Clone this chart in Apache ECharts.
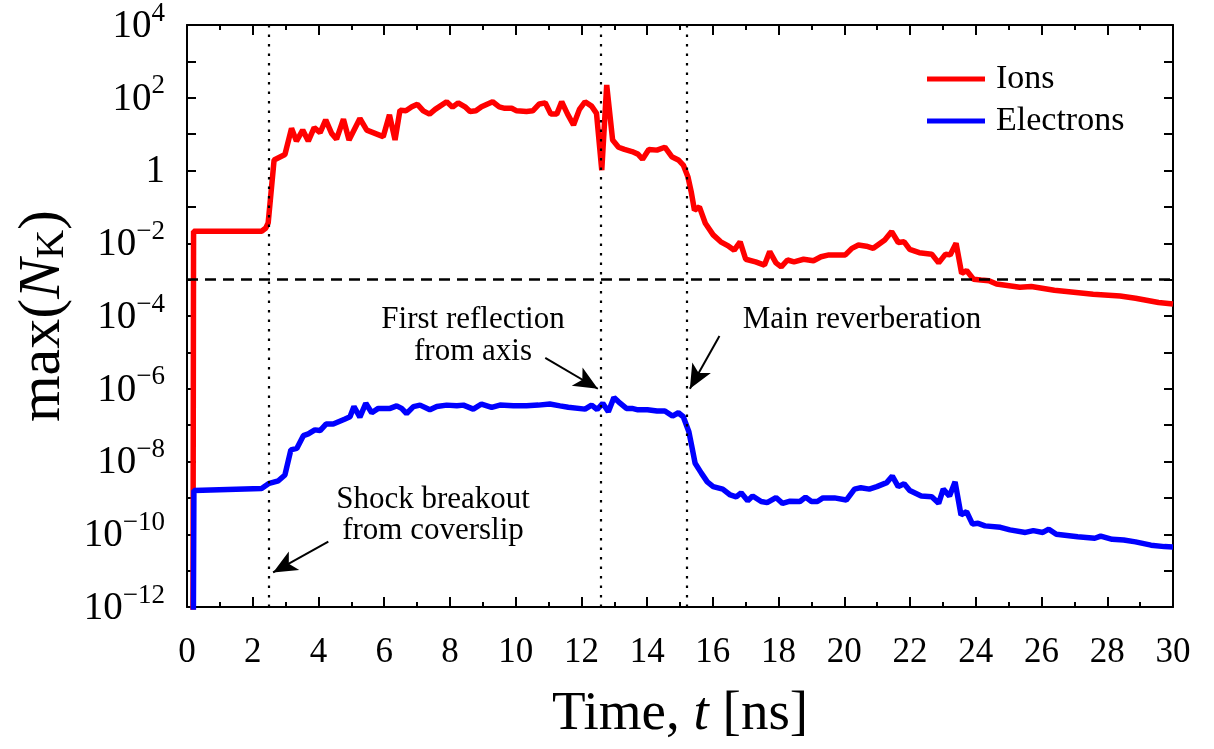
<!DOCTYPE html>
<html>

<head>
    <meta charset="utf-8">
    <title>max(N_K) vs time</title>
    <script src="https://cdn.jsdelivr.net/npm/echarts@6/dist/echarts.min.js"></script>
    <style>
        html, body { margin: 0; padding: 0; background: #fff; }
        #chart { width: 1214px; height: 749px; }
    </style>
</head>

<body>
    <div id="chart"></div>
    <script>
    // y values are log10(max N_K)
    var ionT = [0.18, 0.2, 2.27, 2.4, 2.47, 2.65, 2.98, 3.18, 3.33, 3.52, 3.69, 3.87, 4.05, 4.22, 4.4, 4.55, 4.76, 4.93, 5.26, 5.47,
        5.97, 6.16, 6.33, 6.48, 6.66, 6.84, 7.01, 7.19, 7.38, 7.55, 7.9, 8.08, 8.25, 8.46, 8.61, 8.79, 8.96, 9.3, 9.5, 9.67,
        9.88, 10.03, 10.33, 10.52, 10.72, 10.9, 11.07, 11.25, 11.4, 11.58, 11.76, 11.94, 12.11, 12.31, 12.46, 12.62, 12.77, 12.95, 13.13, 13.31,
        13.54, 13.72, 13.86, 14.05, 14.3, 14.54, 14.75, 14.95, 15.1, 15.24, 15.34, 15.44, 15.59, 15.77, 16.01, 16.24, 16.48, 16.65, 16.83, 17.0,
        17.3, 17.57, 17.73, 17.92, 18.08, 18.27, 18.47, 18.76, 19.06, 19.29, 19.53, 20.03, 20.23, 20.43, 20.67, 20.88, 21.23, 21.44, 21.64, 21.82,
        21.99, 22.28, 22.66, 22.87, 23.08, 23.22, 23.4, 23.57, 23.72, 23.93, 24.16, 24.4, 24.63, 25.34, 25.69, 26.39, 27.57, 27.92, 28.39, 28.86,
        29.56, 30];
    var ionLog = [-13, -1.67, -1.67, -1.58, -1.44, 0.29, 0.44, 1.16, 0.81, 1.11, 0.81, 1.18, 1.04, 1.39, 1.02, 0.86, 1.41, 0.84, 1.43, 1.11,
        0.93, 1.53, 0.84, 1.66, 1.64, 1.75, 1.82, 1.64, 1.55, 1.68, 1.89, 1.74, 1.86, 1.75, 1.62, 1.64, 1.75, 1.89, 1.75, 1.71,
        1.71, 1.64, 1.62, 1.64, 1.83, 1.86, 1.55, 1.55, 1.89, 1.55, 1.25, 1.68, 1.89, 1.77, 1.57, 0.01, 2.35, 0.84, 0.64, 0.58,
        0.52, 0.45, 0.31, 0.58, 0.56, 0.64, 0.38, 0.29, 0.15, -0.17, -0.58, -1.09, -1.0, -1.45, -1.77, -1.96, -2.08, -2.19, -1.96, -2.44,
        -2.51, -2.6, -2.23, -2.54, -2.65, -2.46, -2.51, -2.44, -2.48, -2.37, -2.32, -2.32, -2.14, -2.05, -2.08, -2.14, -1.91, -1.68, -1.98, -1.96,
        -2.17, -2.26, -2.3, -2.54, -2.3, -2.32, -2.0, -2.83, -2.75, -2.99, -3.01, -3.03, -3.12, -3.21, -3.19, -3.29, -3.4, -3.42, -3.45, -3.51,
        -3.63, -3.67];

    var eleT = [0.19, 0.21, 2.27, 2.5, 2.78, 2.98, 3.16, 3.34, 3.54, 3.69, 3.89, 4.05, 4.23, 4.45, 4.63, 4.81, 4.96, 5.08, 5.26, 5.44,
        5.62, 5.82, 6.18, 6.38, 6.53, 6.68, 6.89, 7.09, 7.39, 7.6, 7.9, 8.21, 8.41, 8.71, 8.96, 9.27, 9.52, 9.93, 10.33, 10.69,
        11.04, 11.35, 11.6, 12.11, 12.31, 12.48, 12.65, 12.82, 12.99, 13.13, 13.37, 13.54, 13.72, 14.01, 14.3, 14.54, 14.77, 14.95, 15.1, 15.27,
        15.36, 15.46, 15.65, 15.83, 16.01, 16.3, 16.53, 16.71, 16.86, 17.06, 17.21, 17.47, 17.65, 17.92, 18.12, 18.35, 18.65, 18.82, 19.0, 19.18,
        19.35, 19.7, 20.06, 20.31, 20.5, 20.76, 20.99, 21.29, 21.46, 21.64, 21.82, 21.99, 22.34, 22.66, 22.87, 23.01, 23.2, 23.37, 23.55, 23.72,
        23.9, 24.07, 24.28, 24.75, 25.04, 25.51, 25.75, 26.04, 26.22, 26.45, 27.1, 27.62, 27.8, 28.15, 28.5, 28.86, 29.33, 29.74, 30];
    var eleLog = [-13, -8.8, -8.74, -8.6, -8.53, -8.37, -7.68, -7.64, -7.29, -7.24, -7.13, -7.15, -6.97, -6.97, -6.9, -6.83, -6.77, -6.49, -6.78, -6.4,
        -6.66, -6.54, -6.54, -6.47, -6.54, -6.68, -6.49, -6.45, -6.58, -6.49, -6.45, -6.47, -6.45, -6.56, -6.42, -6.51, -6.45, -6.47, -6.47, -6.45,
        -6.42, -6.47, -6.51, -6.56, -6.45, -6.57, -6.4, -6.63, -6.24, -6.36, -6.54, -6.54, -6.58, -6.58, -6.61, -6.61, -6.75, -6.66, -6.77, -7.18,
        -7.59, -8.05, -8.32, -8.56, -8.69, -8.76, -8.92, -8.97, -8.86, -9.08, -8.95, -9.1, -9.13, -8.99, -9.15, -9.09, -9.1, -8.98, -9.1, -9.1,
        -9.0, -9.0, -9.06, -8.76, -8.72, -8.76, -8.69, -8.58, -8.4, -8.69, -8.61, -8.8, -8.95, -8.97, -9.15, -8.76, -8.95, -8.56, -9.47, -9.38,
        -9.72, -9.7, -9.77, -9.81, -9.88, -9.95, -9.9, -9.95, -9.86, -10.0, -10.07, -10.11, -10.05, -10.14, -10.16, -10.21, -10.3, -10.34, -10.35];

    var eventTimes = [2.5, 12.6, 15.2];   // dotted markers
    var threshold = -3;                    // dashed line, 1e-3

    var serif = 'Liberation Serif';

    function pairs(t, v) {
        return t.map(function(x, i) { return [x, v[i]]; });
    }

    function yLabel(v) {
        if (v % 2 !== 0) return '';
        if (v === 0) return '{b|1}';
        return '{b|10}{s|' + (v < 0 ? '\u2212' : '') + Math.abs(v) + '}';
    }

    function note(text, x, y) {
        return {
            type: 'text', x: x, y: y,
            style: { text: text, fontFamily: serif, fontSize: 31, fill: '#000', align: 'center', verticalAlign: 'middle' }
        };
    }

    var chart = echarts.init(document.getElementById('chart'));
    var frame = { show: true, onZero: false, lineStyle: { color: '#000', width: 2 } };
    var tickStyle = { color: '#000', width: 2 };

    chart.setOption({
        animation: false,
        backgroundColor: '#fff',
        grid: { left: 187, right: 41, top: 25, bottom: 142 },
        legend: {
            left: 922, top: 57, orient: 'vertical', itemGap: 8,
            itemWidth: 58, itemHeight: 5, icon: 'rect',
            textStyle: { fontFamily: serif, fontSize: 34, color: '#000', padding: [0, 0, 0, 6] },
            data: ['Ions', 'Electrons']
        },
        xAxis: [{
            type: 'value', min: 0, max: 30, interval: 2,
            axisLine: frame,
            axisTick: { show: true, inside: true, length: 10, lineStyle: tickStyle },
            minorTick: { show: true, splitNumber: 2, length: 5, lineStyle: tickStyle },
            splitLine: { show: false },
            axisLabel: { margin: 28, fontFamily: serif, fontSize: 35, color: '#000' },
            name: '{a|Time, }{i|t}{a| [ns]}',
            nameLocation: 'middle', nameGap: 80,
            nameTextStyle: {
                rich: {
                    a: { fontFamily: serif, fontSize: 55, color: '#000' },
                    i: { fontFamily: serif, fontSize: 55, fontStyle: 'italic', color: '#000' }
                }
            }
        }, {
            type: 'value', min: 0, max: 30, interval: 2, position: 'top',
            axisLine: frame,
            axisTick: { show: true, inside: true, length: 10, lineStyle: tickStyle },
            minorTick: { show: true, splitNumber: 2, length: 5, lineStyle: tickStyle },
            splitLine: { show: false },
            axisLabel: { show: false }
        }],
        yAxis: [{
            type: 'value', min: -12, max: 4, interval: 1,
            axisLine: frame,
            axisTick: { show: true, inside: true, length: 9, lineStyle: tickStyle },
            splitLine: { show: false },
            axisLabel: {
                margin: 22,
                formatter: yLabel,
                rich: {
                    b: { fontFamily: serif, fontSize: 39, color: '#000', verticalAlign: 'bottom', lineHeight: 42 },
                    s: { fontFamily: serif, fontSize: 27, color: '#000', verticalAlign: 'bottom', lineHeight: 42, padding: [0, 0, 19, 0] }
                }
            },
            name: '{n|max(}{i|N}{k|K}{n|)}',
            nameLocation: 'middle', nameGap: 113, nameRotate: 90,
            nameTextStyle: {
                rich: {
                    n: { fontFamily: serif, fontSize: 60, color: '#000', verticalAlign: 'bottom', lineHeight: 64 },
                    i: { fontFamily: serif, fontSize: 60, fontStyle: 'italic', color: '#000', verticalAlign: 'bottom', lineHeight: 64 },
                    k: { fontFamily: serif, fontSize: 40, color: '#000', verticalAlign: 'bottom', lineHeight: 64 }
                }
            }
        }, {
            type: 'value', min: -12, max: 4, interval: 1, position: 'right',
            axisLine: frame,
            axisTick: { show: true, inside: true, length: 9, lineStyle: tickStyle },
            splitLine: { show: false },
            axisLabel: { show: false }
        }],
        series: [{
            name: 'Ions', type: 'line', xAxisIndex: 0, yAxisIndex: 0,
            data: pairs(ionT, ionLog),
            showSymbol: false, clip: true,
            itemStyle: { color: '#ff0000' },
            lineStyle: { color: '#ff0000', width: 5.5 },
            markLine: {
                silent: true, symbol: 'none', animation: false,
                label: { show: false },
                data: eventTimes.map(function(t) {
                    return { xAxis: t, lineStyle: { type: [2.5, 7], color: '#000', width: 2.2 } };
                }).concat([{ yAxis: threshold, lineStyle: { type: [11, 7], color: '#000', width: 2.5 } }])
            }
        }, {
            name: 'Electrons', type: 'line', xAxisIndex: 0, yAxisIndex: 0,
            data: pairs(eleT, eleLog),
            showSymbol: false, clip: true,
            itemStyle: { color: '#0000ff' },
            lineStyle: { color: '#0000ff', width: 5.5 },
            markLine: {
                silent: true, animation: false,
                symbol: ['none', 'arrow'], symbolSize: [16, 24],
                label: { show: false },
                lineStyle: { color: '#000', width: 2, type: 'solid' },
                data: [
                    [{ coord: [10.9, -5.15] }, { coord: [12.5, -6.0] }],
                    [{ coord: [16.2, -4.55] }, { coord: [15.3, -6.0] }],
                    [{ coord: [4.3, -10.2] }, { coord: [2.62, -11.05] }]
                ]
            }
        }],
        graphic: [
            note('First reflection', 473, 320),
            note('from axis', 473, 352),
            note('Main reverberation', 862, 320),
            note('Shock breakout', 433, 500),
            note('from coverslip', 433, 531)
        ]
    });
    </script>
</body>

</html>
